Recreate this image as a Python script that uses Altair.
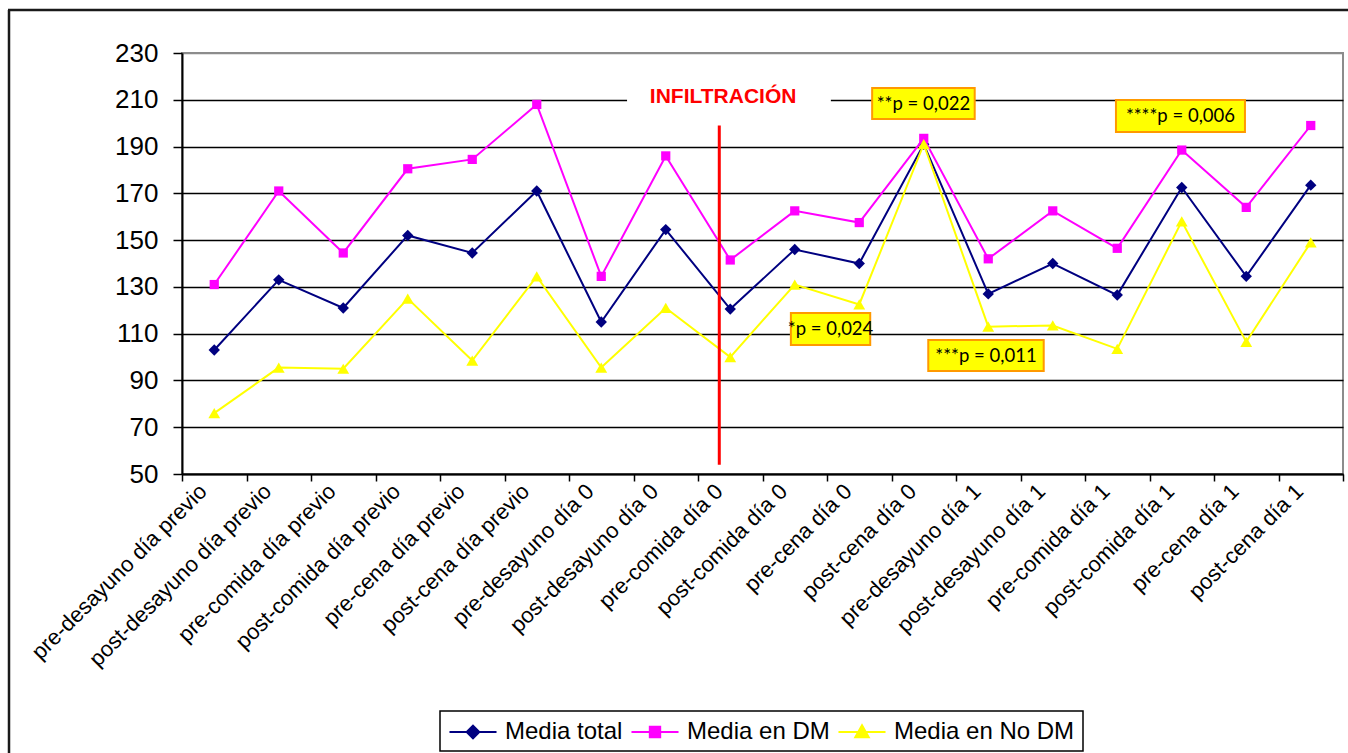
import altair as alt
import pandas as pd

# ---- data -----------------------------------------------------------------
categories = [
    "pre-desayuno día previo", "post-desayuno día previo", "pre-comida día previo",
    "post-comida día previo", "pre-cena día previo", "post-cena día previo",
    "pre-desayuno día 0", "post-desayuno día 0", "pre-comida día 0",
    "post-comida día 0", "pre-cena día 0", "post-cena día 0",
    "pre-desayuno día 1", "post-desayuno día 1", "pre-comida día 1",
    "post-comida día 1", "pre-cena día 1", "post-cena día 1",
]
media_total = [103, 133, 121, 152, 144.5, 171, 115, 154.5, 120.5,
               146, 140, 191, 127, 140, 126.5, 172.5, 134.5, 173.5]
media_dm = [131, 171, 144.5, 180.5, 184.5, 208, 134.5, 186, 141.5,
            162.5, 157.5, 193.5, 142, 162.5, 146.5, 188.5, 164, 199]
media_no_dm = [76, 95.5, 95, 125, 98.5, 134.5, 95.5, 121, 100,
               131, 122.5, 191, 113, 113.5, 103.5, 158, 106.5, 149]

series_names = ["Media total", "Media en DM", "Media en No DM"]
series_colors = ["#000080", "#FF00FF", "#FFFF00"]
series_shapes = ["diamond", "square", "triangle-up"]
series_sizes = [130, 85, 140]
y_ticks = list(range(50, 231, 20))

# significance call-outs (box extents in category-index / mg/dl units)
annotation_text = ["**p = 0,022", "****p = 0,006", "*p = 0,024", "***p = 0,011"]
annotation_x0 = [10.70, 14.48, 9.44, 11.57]
annotation_x1 = [12.29, 16.48, 10.67, 13.36]
annotation_y0 = [201.8, 196.2, 105.2, 94.0]
annotation_y1 = [215.0, 209.9, 118.8, 107.3]

# infiltration marker
infiltration_label = "INFILTRACIÓN"
infiltration_x = 8.33
infiltration_y = [54, 199]
infiltration_label_x = 8.39
infiltration_label_y = 211
infiltration_gap = [6.90, 10.06, 205.3, 214.7]

# ---- tables ----------------------------------------------------------------
values_by_series = [media_total, media_dm, media_no_dm]
rows = []
for name, vals in zip(series_names, values_by_series):
    for i, (cat, v) in enumerate(zip(categories, vals)):
        rows.append({"pos": i + 0.5, "categoria": cat, "serie": name, "valor": v})
df = pd.DataFrame(rows)

df_cat = pd.DataFrame({"pos": [i + 0.5 for i in range(len(categories))],
                       "categoria": categories})

df_ann = pd.DataFrame({
    "texto": annotation_text,
    "x0": annotation_x0, "x1": annotation_x1,
    "y0": annotation_y0, "y1": annotation_y1,
})
df_ann["xc"] = (df_ann["x0"] + df_ann["x1"]) / 2
df_ann["yc"] = (df_ann["y0"] + df_ann["y1"]) / 2

df_inf = pd.DataFrame({
    "x": [infiltration_x], "ya": [infiltration_y[0]], "yb": [infiltration_y[1]],
    "lx": [infiltration_label_x], "ly": [infiltration_label_y],
    "texto": [infiltration_label],
    "gx0": [infiltration_gap[0]], "gx1": [infiltration_gap[1]],
    "gy0": [infiltration_gap[2]], "gy1": [infiltration_gap[3]],
})
one_row = pd.DataFrame({"k": [0]})

W, H = 1161, 421
FONT = "Liberation Sans"

x_scale = alt.Scale(domain=[0, len(categories)], nice=False, zero=False)
y_scale = alt.Scale(domain=[50, 230], nice=False, zero=False)

x_axis = alt.Axis(values=list(range(len(categories) + 1)), labels=False, title=None,
                  grid=False, ticks=True, tickSize=7, tickColor="black", tickWidth=1.5,
                  domainColor="black", domainWidth=2)
y_axis = alt.Axis(values=y_ticks, title=None, labelFontSize=26, labelFont=FONT,
                  labelColor="black", labelPadding=15, tickSize=9, tickColor="black",
                  tickWidth=1.5, domainColor="black", domainWidth=2, grid=True,
                  gridColor=alt.condition("datum.value == 230", alt.value("#8c8c8c"),
                                          alt.value("black")),
                  gridWidth=1.5)


def X(field):
    return alt.X(field, scale=x_scale, axis=x_axis)


def Y(field):
    return alt.Y(field, scale=y_scale, axis=y_axis)


layers = []

# white gap in the 210 grid line behind the infiltration label
layers.append(
    alt.Chart(df_inf).mark_rect(fill="white").encode(
        x=X("gx0:Q"), x2="gx1:Q", y=Y("gy0:Q"), y2="gy1:Q")
)
layers.append(
    alt.Chart(df_inf).mark_text(color="#FF0000", fontWeight="bold", fontSize=21,
                                font=FONT, align="center", baseline="middle").encode(
        x=X("lx:Q"), y=Y("ly:Q"), text="texto:N")
)

# series: line and markers, drawn in series order
for name, color, shape, size in zip(series_names, series_colors, series_shapes, series_sizes):
    base = alt.Chart(df).transform_filter(alt.datum.serie == name)
    layers.append(base.mark_line(color=color, strokeWidth=2).encode(
        x=X("pos:Q"), y=Y("valor:Q")))
    layers.append(base.mark_point(color=color, filled=True, opacity=1,
                                  shape=shape, size=size).encode(
        x=X("pos:Q"), y=Y("valor:Q")))

# infiltration line
layers.append(
    alt.Chart(df_inf).mark_rule(color="#FF0000", strokeWidth=3).encode(
        x=X("x:Q"), y=Y("ya:Q"), y2="yb:Q")
)

# significance boxes
layers.append(
    alt.Chart(df_ann).mark_rect(fill="#FFFF00", stroke="#FF9900", strokeWidth=2).encode(
        x=X("x0:Q"), x2="x1:Q", y=Y("y0:Q"), y2="y1:Q")
)
layers.append(
    alt.Chart(df_ann).mark_text(font="Lato", fontSize=18.5, color="black",
                                align="center", baseline="middle").encode(
        x=X("xc:Q"), y=Y("yc:Q"), text="texto:N")
)

# rotated category labels under the axis
layers.append(
    alt.Chart(df_cat).mark_text(angle=315, align="right", baseline="middle",
                                fontSize=22, font=FONT, color="black").encode(
        x=X("pos:Q"), xOffset=alt.value(-11), y=alt.value(H + 14), text="categoria:N")
)

# legend (line + marker symbols)
legend_paths = [
    "M-1.68,0L1.68,0M0,-0.45L0.45,0L0,0.45L-0.45,0Z",
    "M-1.68,0L1.68,0M-0.37,-0.37L0.37,-0.37L0.37,0.37L-0.37,0.37Z",
    "M-1.68,0L1.68,0M0,-0.48L0.48,0.37L-0.48,0.37Z",
]
leg = alt.Legend(title=None, orient="none", legendX=276, legendY=664,
                 direction="horizontal", labelFontSize=24, labelFont=FONT,
                 labelColor="black", labelLimit=400, symbolSize=784,
                 symbolStrokeWidth=2, labelOffset=17, columnPadding=4, padding=0)
layers.append(
    alt.Chart(df).transform_filter("false").mark_point(filled=True, opacity=1).encode(
        x=X("pos:Q"), y=Y("valor:Q"),
        fill=alt.Fill("serie:N", scale=alt.Scale(domain=series_names, range=series_colors),
                      legend=leg),
        stroke=alt.Stroke("serie:N", scale=alt.Scale(domain=series_names, range=series_colors),
                          legend=leg),
        shape=alt.Shape("serie:N", scale=alt.Scale(domain=series_names, range=legend_paths),
                        legend=leg),
    )
)
# legend frame
layers.append(
    alt.Chart(one_row).mark_rect(fill=None, stroke="black", strokeWidth=1.5).encode(
        x=alt.value(258), x2=alt.value(901), y=alt.value(658), y2=alt.value(698))
)
# outer frame (left and top edges)
layers.append(
    alt.Chart(one_row).mark_rule(color="#1a1a1a", strokeWidth=2.5).encode(
        x=alt.value(-173), y=alt.value(-43), y2=alt.value(H + 290))
)
layers.append(
    alt.Chart(one_row).mark_rule(color="#1a1a1a", strokeWidth=2.5).encode(
        x=alt.value(-174), x2=alt.value(W + 10), y=alt.value(-43))
)

chart = alt.layer(*layers).properties(
    width=W, height=H,
    padding={"left": 182, "top": 53, "right": 5, "bottom": 279},
    autosize=alt.AutoSizeParams(type="none"),
    background="white",
).configure_view(stroke="#8c8c8c", strokeWidth=2)

chart.save("out.html", embed_options={"renderer": "svg", "actions": False})
